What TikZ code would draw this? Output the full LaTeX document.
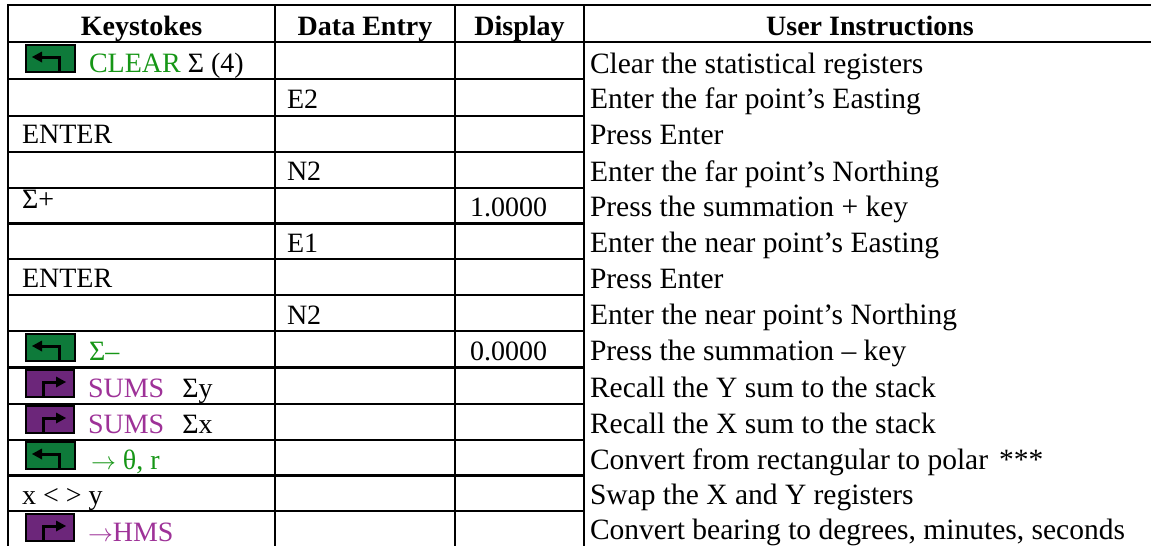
\documentclass[tikz,border=0pt]{standalone}
\usepackage{fontspec}
\setmainfont{Liberation Serif}
\definecolor{keygreen}{RGB}{14,122,58}
\definecolor{keypurple}{RGB}{108,38,122}
\definecolor{txtgreen}{RGB}{22,150,22}
\definecolor{txtpurple}{RGB}{158,50,152}
\newcommand{\rarr}{\ensuremath{\rightarrow}}
\tikzset{
  grid/.style={line width=2.4pt, line cap=rect},
  cell/.style={anchor=base west, inner sep=0pt, outer sep=0pt, font=\fontsize{28}{31}\selectfont},
  instr/.style={anchor=base west, inner sep=0pt, outer sep=0pt, font=\fontsize{29.5}{32}\selectfont},
  head/.style={anchor=base, inner sep=0pt, outer sep=0pt, font=\fontsize{28}{31}\selectfont\bfseries},
  greenkey/.pic={
    \filldraw[fill=keygreen, draw=black, line width=1.8pt] (0,0) rectangle (49,27);
    \draw[line width=3pt] (14,12) -- (33,12) -- (33,27);
    \fill (6,12) -- (16,6.5) -- (16,17.5) -- cycle;
  },
  purplekey/.pic={
    \filldraw[fill=keypurple, draw=black, line width=1.8pt] (0,0) rectangle (48,27);
    \draw[line width=3pt] (17,27) -- (17,12) -- (33,12);
    \fill (40,12) -- (30,6.5) -- (30,17.5) -- cycle;
  }
}
\begin{document}
\begin{tikzpicture}[x=1pt, y=-1pt]
\useasboundingbox (0,0) rectangle (1151,546);
\fill[white] (0,0) rectangle (1151,546);

% horizontal rules: header spans the full width, body rows only the first three columns
\draw[grid] (8,5) -- (1160,5);
\draw[grid] (8,42) -- (1160,42);
\foreach \yy in {79,115.7,152,188,223.3,259,295,331,367.3,404,440,475.3,511}
  \draw[grid] (8,\yy) -- (584,\yy);
% vertical rules
\foreach \xx in {8,275,455,584}
  \draw[grid] (\xx,5) -- (\xx,560);

% header
\node[head] (hkeys) at (141.5,35) {Keystokes};
\node[head] (hdata) at (365,35) {Data Entry};
\node[head] (hdisp) at (519.5,35) {Display};
\node[head] (hinst) at (870,35) {User Instructions};

% keystrokes column
\pic (k1) at (26,45) {greenkey};
\node[cell] (ks1) at (89,72) {\textcolor{txtgreen}{CLEAR} Σ (4)};
\node[cell] (ks3) at (22,143) {ENTER};
\node[cell] (ks5) at (22,208) {Σ+};
\node[cell] (ks7) at (22,287) {ENTER};
\pic (k9) at (26,334) {greenkey};
\node[cell] (ks9) at (89,360) {\textcolor{txtgreen}{Σ–}};
\pic (k10) at (26,370) {purplekey};
\node[cell] (ks10) at (88,397) {\textcolor{txtpurple}{SUMS}\hspace{18pt}Σy};
\pic (k11) at (26,406) {purplekey};
\node[cell] (ks11) at (88,433) {\textcolor{txtpurple}{SUMS}\hspace{18pt}Σx};
\pic (k12) at (26,442) {greenkey};
\node[cell] (ks12) at (91,469) {\textcolor{txtgreen}{\rarr{} θ, r}};
\node[cell] (ks13) at (22,504) {x < > y};
\pic (k14) at (26,514) {purplekey};
\node[cell] (ks14) at (88,541) {\textcolor{txtpurple}{\rarr{}HMS}};

% data entry column
\node[cell] (de2) at (287,108) {E2};
\node[cell] (de4) at (287,180) {N2};
\node[cell] (de6) at (287,252) {E1};
\node[cell] (de8) at (287,324) {N2};

% display column
\node[cell] (dp5) at (470,216) {1.0000};
\node[cell] (dp9) at (470,360) {0.0000};

% instructions column
\node[instr] (in1)  at (590,73)  {Clear the statistical registers};
\node[instr] (in2)  at (590,108) {Enter the far point’s Easting};
\node[instr] (in3)  at (590,144) {Press Enter};
\node[instr] (in4)  at (590,181) {Enter the far point’s Northing};
\node[instr] (in5)  at (590,216) {Press the summation + key};
\node[instr] (in6)  at (590,252) {Enter the near point’s Easting};
\node[instr] (in7)  at (590,288) {Press Enter};
\node[instr] (in8)  at (590,324) {Enter the near point’s Northing};
\node[instr] (in9)  at (590,360) {Press the summation – key};
\node[instr] (in10) at (590,397) {Recall the Y sum to the stack};
\node[instr] (in11) at (590,433) {Recall the X sum to the stack};
\node[instr] (in12) at (590,469) {Convert from rectangular to polar\hspace{11pt}***};
\node[instr] (in13) at (590,504) {Swap the X and Y registers};
\node[instr] (in14) at (590,539) {Convert bearing to degrees, minutes, seconds};
\end{tikzpicture}
\end{document}
